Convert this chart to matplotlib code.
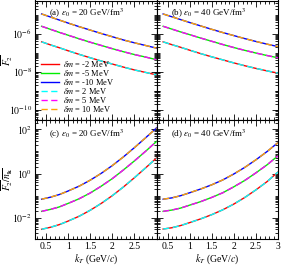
import numpy as np
import matplotlib
matplotlib.use("Agg")
import matplotlib.pyplot as plt
from matplotlib.ticker import FixedLocator, MultipleLocator, NullFormatter

plt.rcParams["font.family"] = "serif"
plt.rcParams["font.serif"] = ["Liberation Serif", "DejaVu Serif"]
plt.rcParams["mathtext.fontset"] = "stix"

# transverse momentum grid (GeV/c)
kT = [0.4, 0.6, 0.8, 1.0, 1.25, 1.5, 1.75, 2.0, 2.25, 2.5, 2.75, 3.0]

# log10 of F2 bar, eps0 = 20 GeV/fm^3 (same curve for +dm and -dm)
logF2_e20_dm2 = [-6.43, -6.59, -6.74, -6.90, -7.09, -7.27, -7.44, -7.60, -7.76, -7.91, -8.04, -8.17]
logF2_e20_dm5 = [-5.61, -5.77, -5.93, -6.08, -6.27, -6.45, -6.62, -6.79, -6.95, -7.10, -7.23, -7.37]
logF2_e20_dm10 = [-4.96, -5.12, -5.28, -5.44, -5.63, -5.81, -5.99, -6.16, -6.33, -6.48, -6.62, -6.76]
# eps0 = 40 GeV/fm^3
logF2_e40_dm2 = [-6.43, -6.58, -6.72, -6.87, -7.05, -7.22, -7.38, -7.54, -7.69, -7.83, -7.96, -8.08]
logF2_e40_dm5 = [-5.61, -5.76, -5.91, -6.05, -6.23, -6.40, -6.57, -6.73, -6.88, -7.02, -7.15, -7.27]
logF2_e40_dm10 = [-4.96, -5.11, -5.26, -5.41, -5.59, -5.77, -5.94, -6.10, -6.26, -6.41, -6.55, -6.68]

# log10 of F2 bar / n_k bar
logR_e20_dm2 = [-2.52, -2.43, -2.31, -2.15, -1.93, -1.66, -1.35, -1.00, -0.61, -0.19, 0.25, 0.70]
logR_e20_dm5 = [-1.71, -1.62, -1.51, -1.35, -1.14, -0.88, -0.57, -0.23, 0.16, 0.57, 1.00, 1.45]
logR_e20_dm10 = [-1.16, -1.07, -0.95, -0.79, -0.57, -0.30, 0.01, 0.36, 0.75, 1.17, 1.61, 2.06]
logR_e40_dm2 = [-2.51, -2.45, -2.35, -2.22, -2.05, -1.86, -1.64, -1.38, -1.08, -0.74, -0.37, 0.07]
logR_e40_dm5 = [-1.71, -1.65, -1.56, -1.43, -1.27, -1.08, -0.87, -0.60, -0.31, 0.03, 0.39, 0.80]
logR_e40_dm10 = [-1.16, -1.10, -1.00, -0.87, -0.70, -0.51, -0.29, -0.02, 0.28, 0.62, 0.99, 1.40]

dm_values = [-2, -5, -10, 2, 5, 10]
dm_colors = ["red", "#00ee00", "blue", "cyan", "magenta", "orange"]

panels = [
    ("(a)", 20, [logF2_e20_dm2, logF2_e20_dm5, logF2_e20_dm10]),
    ("(b)", 40, [logF2_e40_dm2, logF2_e40_dm5, logF2_e40_dm10]),
    ("(c)", 20, [logR_e20_dm2, logR_e20_dm5, logR_e20_dm10]),
    ("(d)", 40, [logR_e40_dm2, logR_e40_dm5, logR_e40_dm10]),
]

W, H = 281, 266
fig = plt.figure(figsize=(W / 100, H / 100), dpi=100)


def px_axes(x0, y0, x1, y1):
    return fig.add_axes([x0 / W, 1 - y1 / H, (x1 - x0) / W, (y1 - y0) / H])


xs = [35, 156.5, 278]
ys = [0.5, 120, 239]
axes = []
for r in range(2):
    for c in range(2):
        axes.append(px_axes(xs[c], ys[r], xs[c + 1], ys[r + 1]))

for i, (ax, (tag, eps, curves)) in enumerate(zip(axes, panels)):
    row, col = divmod(i, 2)
    # solid lines for negative dm, dashed on top for positive dm
    for j in range(3):
        ax.plot(kT, np.power(10.0, curves[j]), color=dm_colors[j], lw=1.0,
                label=rf"$\delta m$ = {dm_values[j]} MeV")
    for j in range(3):
        ax.plot(kT, np.power(10.0, curves[j]), color=dm_colors[j + 3], lw=1.0,
                ls=(0, (4.5, 2.5)), label=rf"$\delta m$ = {dm_values[j + 3]} MeV")

    ax.set_yscale("log")
    ax.set_xlim(0.25, 3.0)
    if row == 0:
        ax.set_ylim(10 ** -10.55, 10 ** -4.25)
        major = [1e-10, 1e-8, 1e-6]
        majlab = [r"$10^{-10}$", r"$10^{-8}$", r"$10^{-6}$"]
        decs = range(-11, -3)
    else:
        ax.set_ylim(10 ** -2.96, 10 ** 2.42)
        major = [1e-2, 1e0, 1e2]
        majlab = [r"$10^{-2}$", r"$10^{0}$", r"$10^{2}$"]
        decs = range(-3, 3)
    minors = [m * 10.0 ** d for d in decs for m in range(1, 10)]
    minors = [v for v in minors if v not in major]
    ax.yaxis.set_major_locator(FixedLocator(major))
    ax.yaxis.set_minor_locator(FixedLocator(minors))
    ax.yaxis.set_minor_formatter(NullFormatter())
    if col == 0:
        ax.set_yticklabels(majlab)
    else:
        ax.set_yticklabels([])

    ax.xaxis.set_major_locator(MultipleLocator(0.5))
    ax.xaxis.set_minor_locator(MultipleLocator(0.1))
    if row == 1:
        ax.set_xticks([0.5, 1, 1.5, 2, 2.5, 3.0])
        if col == 0:
            ax.set_xticklabels(["0.5", "1", "1.5", "2", "2.5", ""])
        else:
            ax.set_xticklabels(["0.5", "1", "1.5", "2", "2.5", "3"])
        ax.set_xlabel(r"$k_T$ (GeV/$c$)", fontsize=7, labelpad=1)
    else:
        ax.set_xticklabels([])

    ax.tick_params(which="both", direction="in", top=True, right=True,
                   labelsize=7, pad=2, width=0.6)
    ax.tick_params(which="major", length=4)
    ax.tick_params(which="minor", length=2)
    for s in ax.spines.values():
        s.set_linewidth(0.8)

    ty = 0.895 if row == 0 else 0.88
    ax.text(0.118, ty, rf"{tag} $\varepsilon_0$ = {eps} GeV/fm$^3$",
            transform=ax.transAxes, fontsize=6.5, va="center")

axes[0].set_ylabel(r"$\overline{F_2}$", fontsize=7)
axes[0].yaxis.set_label_coords(-0.165, 0.5)
axes[2].set_ylabel(r"$\overline{F_2}/\overline{n_{\mathbf{k}}}$", fontsize=7)
axes[2].yaxis.set_label_coords(-0.165, 0.5)

axes[0].legend(loc="lower left", fontsize=6, frameon=False, handlelength=2.2,
               handletextpad=0.4, labelspacing=-0.12, borderaxespad=0.3,
               bbox_to_anchor=(0.0, 0.0))

fig.savefig("out.png", dpi=100)
